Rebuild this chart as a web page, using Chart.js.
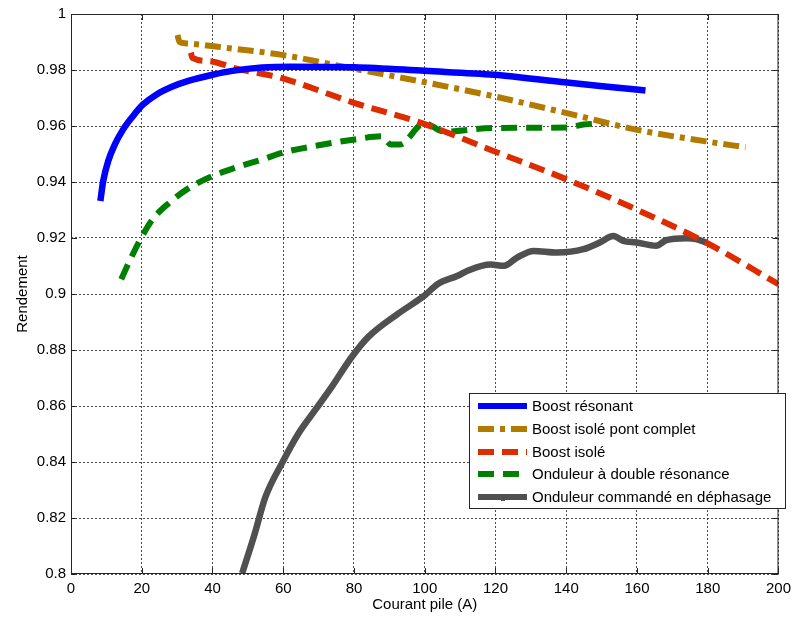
<!DOCTYPE html>
<html><head><meta charset="utf-8">
<script src="https://cdn.jsdelivr.net/npm/chart.js@4"></script>
<style>html,body{margin:0;padding:0;background:#fff}</style>
</head><body>
<canvas id="c" width="797" height="619"></canvas>
<script>
const xTicks = [0, 20, 40, 60, 80, 100, 120, 140, 160, 180, 200];
const yTicks = [0.8, 0.82, 0.84, 0.86, 0.88, 0.9, 0.92, 0.94, 0.96, 0.98, 1];

const seriesNames = ["Boost résonant", "Boost isolé pont complet", "Boost isolé", "Onduleur à double résonance", "Onduleur commandé en déphasage"];

const blueX = [8.3, 9.1, 10.5, 12.4, 14.7, 17.5, 20.3, 24.1, 28.7, 33.4, 40, 45.6, 54, 62, 80.2, 100, 119.6, 140.2, 156.1, 162.4];
const blueY = [0.9332, 0.9403, 0.9474, 0.9534, 0.9587, 0.9635, 0.9676, 0.9712, 0.9741, 0.9762, 0.9783, 0.9797, 0.9809, 0.9812, 0.9810, 0.9797, 0.9783, 0.9755, 0.9735, 0.9727];

const goldX = [30.1, 30.7, 32.5, 44.7, 59.6, 79.3, 99, 119.6, 140.2, 159.8, 179.5, 190.7];
const goldY = [0.9925, 0.9900, 0.9895, 0.9878, 0.9854, 0.9806, 0.9759, 0.9706, 0.9646, 0.9587, 0.9545, 0.9524];

const redX = [33.9, 34.3, 39, 46.5, 59.6, 80.2, 99, 119.6, 140.2, 159.8, 179.5, 200];
const redY = [0.9862, 0.9843, 0.9832, 0.9806, 0.9771, 0.9682, 0.9611, 0.951, 0.9409, 0.9302, 0.9184, 0.9035];

const greenX = [14.2, 16.6, 19.4, 23.1, 27.8, 33.4, 40, 46.5, 55, 59.6, 70, 80.2, 87.7, 90.5, 92.9, 99.9, 105.5, 119.6, 140.2, 144.9, 150.5];
const greenY = [0.9053, 0.9119, 0.919, 0.9267, 0.9326, 0.9379, 0.9421, 0.9451, 0.9484, 0.9504, 0.9531, 0.9552, 0.9563, 0.9534, 0.9534, 0.961, 0.958, 0.9593, 0.9595, 0.9605, 0.961];

const grayX = [48.4, 51.7, 55, 59.6, 64.3, 69, 73.7, 79.3, 84, 92.4, 99.9, 103.7, 109.3, 112.1, 118.6, 122.4, 126.1, 130.8, 137.4, 144.9, 149.5, 153.3, 156.1, 159.8, 165.4, 168.3, 173.9, 176.7, 179.5];
const grayY = [0.8003, 0.8134, 0.8276, 0.8395, 0.8502, 0.8585, 0.8668, 0.8774, 0.8846, 0.8929, 0.8994, 0.9036, 0.9065, 0.9083, 0.9105, 0.9101, 0.913, 0.9154, 0.9148, 0.916, 0.9184, 0.9207, 0.919, 0.9184, 0.9172, 0.9192, 0.9199, 0.9196, 0.9184];

const toPts = (xs, ys) => xs.map((x, i) => ({x: x, y: ys[i]}));
const FONT = "'Liberation Sans', Arial, sans-serif";

const datasets = [
  {label: seriesNames[0], data: toPts(blueX, blueY), borderColor: '#0000FF', borderWidth: 6.5, borderDash: []},
  {label: seriesNames[1], data: toPts(goldX, goldY), borderColor: '#B37A00', borderWidth: 6, borderDash: [16, 6, 5, 6]},
  {label: seriesNames[2], data: toPts(redX, redY), borderColor: '#DD2C00', borderWidth: 6, borderDash: [16, 8]},
  {label: seriesNames[3], data: toPts(greenX, greenY), borderColor: '#008000', borderWidth: 6, borderDash: [16, 9]},
  {label: seriesNames[4], data: toPts(grayX, grayY), borderColor: '#505050', borderWidth: 6.5, borderDash: []}
].map(d => Object.assign({pointRadius: 0, fill: false, borderCapStyle: 'butt', borderJoinStyle: 'round', cubicInterpolationMode: 'monotone'}, d));

const framePlugin = {
  id: 'frame',
  afterDatasetsDraw(chart) {
    const {ctx, chartArea: a, scales} = chart;
    ctx.save();
    ctx.strokeStyle = '#262626';
    ctx.lineWidth = 1;
    ctx.setLineDash([]);
    ctx.strokeRect(a.left + 0.5, a.top + 0.5, a.right - a.left - 1, a.bottom - a.top - 1);
    ctx.beginPath();
    xTicks.forEach(v => {
      const px = Math.round(scales.x.getPixelForValue(v)) + 0.5;
      ctx.moveTo(px, a.bottom); ctx.lineTo(px, a.bottom - 6);
      ctx.moveTo(px, a.top); ctx.lineTo(px, a.top + 6);
    });
    yTicks.forEach(v => {
      const py = Math.round(scales.y.getPixelForValue(v)) + 0.5;
      ctx.moveTo(a.left, py); ctx.lineTo(a.left + 6, py);
      ctx.moveTo(a.right, py); ctx.lineTo(a.right - 6, py);
    });
    ctx.stroke();

    const bx = 469, by = 393, bw = 316, bh = 115;
    ctx.fillStyle = '#fff';
    ctx.fillRect(bx, by, bw, bh);
    ctx.strokeStyle = '#262626';
    ctx.strokeRect(bx + 0.5, by + 0.5, bw, bh);
    ctx.font = '15px ' + FONT;
    ctx.textBaseline = 'middle';
    ctx.textAlign = 'left';
    const rows = [406, 429, 452, 474, 497];
    chart.data.datasets.forEach((d, i) => {
      const y = rows[i];
      ctx.save();
      ctx.strokeStyle = d.borderColor;
      ctx.lineWidth = 6;
      ctx.lineCap = 'butt';
      ctx.setLineDash(d.borderDash || []);
      ctx.beginPath();
      ctx.moveTo(478, y); ctx.lineTo(527, y);
      ctx.stroke();
      if (i === 4) {
        ctx.fillStyle = d.borderColor;
        ctx.fillRect(501, y, 4, 4);
      }
      ctx.restore();
      ctx.fillStyle = '#000';
      ctx.fillText(d.label, 532, y + 1);
    });
    ctx.restore();
  }
};

const gridCommon = {color: 'rgba(0,0,0,0.7)', lineWidth: 1, drawTicks: false};

new Chart(document.getElementById('c'), {
  type: 'line',
  data: {datasets: datasets},
  options: {
    responsive: false,
    devicePixelRatio: 1,
    animation: false,
    layout: {padding: {left: 14, right: 14, top: 12, bottom: 5}},
    plugins: {legend: {display: false}, tooltip: {enabled: false}},
    scales: {
      x: {
        type: 'linear', min: 0, max: 200,
        afterBuildTicks: s => { s.ticks = xTicks.map(v => ({value: v})); },
        afterFit: s => { s.height = 40; },
        grid: gridCommon,
        border: {display: false, dash: [2, 2]},
        ticks: {color: '#000', font: {family: FONT, size: 15}, padding: 6, maxRotation: 0, autoSkip: false, callback: v => String(v)},
        title: {display: true, text: 'Courant pile (A)', color: '#000', font: {family: FONT, size: 15}, padding: {top: 0, bottom: 0}}
      },
      y: {
        type: 'linear', min: 0.8, max: 1,
        afterBuildTicks: s => { s.ticks = yTicks.map(v => ({value: v})); },
        afterFit: s => { s.width = 57; },
        grid: gridCommon,
        border: {display: false, dash: [2, 2]},
        ticks: {color: '#000', font: {family: FONT, size: 15}, padding: 5, autoSkip: false, callback: v => String(Math.round(v * 100) / 100)},
        title: {display: true, text: 'Rendement', color: '#000', font: {family: FONT, size: 15}, padding: {top: 0, bottom: 0}}
      }
    }
  },
  plugins: [framePlugin]
});
</script>
</body></html>
